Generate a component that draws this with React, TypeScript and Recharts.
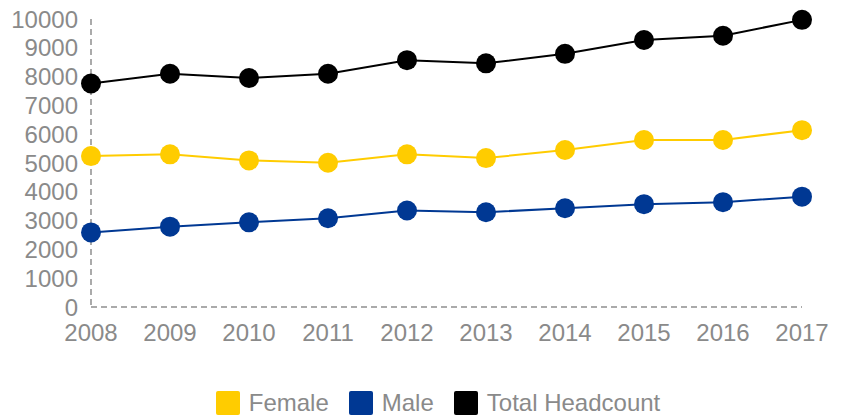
import React from "react";
import { LineChart, Line, XAxis, YAxis, Legend } from "recharts";

const years = ["2008", "2009", "2010", "2011", "2012", "2013", "2014", "2015", "2016", "2017"];
const female = [5240, 5300, 5090, 5010, 5300, 5170, 5450, 5800, 5800, 6140];
const male = [2590, 2790, 2940, 3080, 3350, 3290, 3430, 3570, 3640, 3830];
const total = [7760, 8100, 7950, 8100, 8570, 8460, 8790, 9270, 9420, 9970];
const yTicks = [0, 1000, 2000, 3000, 4000, 5000, 6000, 7000, 8000, 9000, 10000];

const series = [
  { key: "female", name: "Female", color: "#FFCC00" },
  { key: "male", name: "Male", color: "#003893" },
  { key: "total", name: "Total Headcount", color: "#000000" },
];

const data = years.map((year, i) => ({
  year,
  female: female[i],
  male: male[i],
  total: total[i],
}));

const textColor = "#8a8a8a";
const font = "'Liberation Sans', Arial, sans-serif";

function LegendRow() {
  return (
    <div
      style={{
        display: "flex",
        justifyContent: "center",
        alignItems: "center",
        fontFamily: font,
        paddingLeft: 29,
        height: 24,
      }}
    >
      {series.map((s, i) => (
        <div
          key={s.key}
          style={{ display: "flex", alignItems: "center", marginRight: i < series.length - 1 ? 20 : 0 }}
        >
          <span
            style={{
              display: "inline-block",
              width: 24,
              height: 24,
              borderRadius: 2,
              background: s.color,
              marginRight: 9,
            }}
          />
          <span style={{ color: textColor, fontSize: 24, lineHeight: "24px" }}>{s.name}</span>
        </div>
      ))}
    </div>
  );
}

export default function App() {
  return (
    <div style={{ position: "absolute", left: 0, top: 0, width: 847, height: 420, background: "#fff" }}>
      <LineChart
        width={847}
        height={420}
        data={data}
        margin={{ top: 19, right: 45, left: 0, bottom: 83 }}
      >
        <XAxis
          dataKey="year"
          axisLine={{ stroke: "#aaaaaa", strokeWidth: 2, strokeDasharray: "6 4" }}
          tickLine={false}
          tickSize={0}
          tickMargin={17}
          interval={0}
          tick={{ fill: textColor, fontSize: 24, fontFamily: font }}
        />
        <YAxis
          domain={[0, 10000]}
          ticks={yTicks}
          interval={0}
          width={91}
          axisLine={{ stroke: "#aaaaaa", strokeWidth: 2, strokeDasharray: "6 4" }}
          tickLine={false}
          tickSize={0}
          tickMargin={13}
          tick={{ fill: textColor, fontSize: 24, fontFamily: font }}
        />
        <Legend
          layout="horizontal"
          verticalAlign="middle"
          align="center"
          wrapperStyle={{ top: 391, left: 0, width: 847, height: 24 }}
          content={() => <LegendRow />}
        />
        {series.map((s) => (
          <Line
            key={s.key}
            dataKey={s.key}
            name={s.name}
            stroke={s.color}
            strokeWidth={2}
            dot={{ r: 10, fill: s.color, stroke: s.color, strokeWidth: 0 }}
            activeDot={false}
            isAnimationActive={false}
          />
        ))}
      </LineChart>
    </div>
  );
}
